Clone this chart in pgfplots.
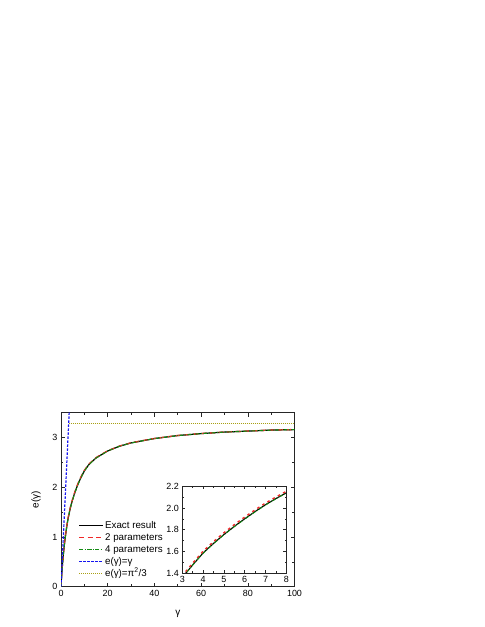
\documentclass[border=0pt]{standalone}
\usepackage{fontspec}
\setmainfont{Liberation Sans}
\usepackage{pgfplots}
\usepackage{pgfplotstable}
\pgfplotsset{compat=1.18}
\definecolor{myred}{RGB}{240,40,40}
\definecolor{mygreen}{RGB}{20,140,20}
\definecolor{myblue}{RGB}{20,20,240}
\definecolor{myolive}{RGB}{170,160,20}

\pgfplotstableread{
g e
0 0
0.05 0.045
0.1 0.087
0.2 0.165
0.3 0.236
0.5 0.366
0.75 0.51
1 0.645
1.5 0.87
2 1.055
2.5 1.22
3 1.362
3.2 1.405
3.5 1.475
4 1.585
4.5 1.673
5 1.755
5.5 1.83
6 1.90
6.5 1.967
7 2.03
7.5 2.087
8 2.14
9 2.24
10 2.33
12 2.46
15 2.59
20 2.73
25 2.825
30 2.892
40 2.98
50 3.04
60 3.08
70 3.11
80 3.13
90 3.15
100 3.16
}\exact

\pgfplotstableread{
g e
0 0
0.05 0.046
0.1 0.089
0.2 0.168
0.3 0.240
0.5 0.372
0.75 0.518
1 0.655
1.5 0.882
2 1.069
2.5 1.235
3 1.378
3.2 1.421
3.5 1.491
4 1.601
4.5 1.689
5 1.771
5.5 1.846
6 1.916
6.5 1.983
7 2.045
7.5 2.101
8 2.154
9 2.252
10 2.341
12 2.469
15 2.597
20 2.735
25 2.829
30 2.895
40 2.982
50 3.042
60 3.081
70 3.111
80 3.131
90 3.151
100 3.161
}\twopar

\pgfplotstableread{
g e
0 0
0.05 0.045
0.1 0.086
0.2 0.164
0.3 0.235
0.5 0.365
0.75 0.509
1 0.644
1.5 0.868
2 1.053
2.5 1.218
3 1.36
3.2 1.403
3.5 1.473
4 1.582
4.5 1.670
5 1.752
5.5 1.827
6 1.897
6.5 1.964
7 2.027
7.5 2.084
8 2.137
9 2.238
10 2.328
12 2.459
15 2.589
20 2.73
25 2.825
30 2.892
40 2.98
50 3.04
60 3.08
70 3.11
80 3.13
90 3.15
100 3.16
}\fourpar

\pgfplotsset{
  mystyle/.style={
    scale only axis,
    tick align=inside,
    major tick length=4bp,
    minor tick length=2.2bp,
    axis line style={line width=0.8bp, black!85},
    every tick/.style={black!85, line width=0.6bp},
    tick label style={font=\fontsize{9}{10}\selectfont},
    /pgf/number format/assume math mode=true,
    clip=true,
  },
}

\begin{document}
\begin{tikzpicture}
\path[use as bounding box] (0,0) rectangle (485bp,627bp);
\begin{axis}[mystyle,
  at={(61bp,40.3bp)}, anchor=south west,
  width=233.5bp, height=174bp,
  xmin=0, xmax=100, ymin=0, ymax=3.5,
  xtick={0,20,...,100}, ytick={0,1,2,3},
  minor x tick num=1, minor y tick num=1,
  xlabel={γ}, ylabel={e(γ)},
  label style={font=\fontsize{9}{10}\selectfont},
  every axis x label/.style={at={(axis description cs:0.5,-0.155)}, anchor=center},
  every axis y label/.style={at={(axis description cs:-0.107,0.5)}, rotate=90, anchor=center},
  legend style={at={(axis description cs:0.07,0.033)}, anchor=south west, draw=none, fill=none,
    font=\fontsize{9.8}{10}\selectfont, row sep=0bp, inner sep=1bp,
    nodes={text height=7bp, text depth=2bp, inner sep=1.5bp}},
  legend cell align=left,
  legend image post style={xscale=1.4},
]
\addplot[color=black, line width=1.2bp] table[x=g,y=e] {\exact};
\addlegendentry{Exact result}
\addplot[color=myred, line width=1.3bp, dash pattern=on 5bp off 3.5bp] table[x=g,y=e] {\twopar};
\addlegendentry{2 parameters}
\addplot[color=mygreen, line width=1.1bp, dash pattern=on 4bp off 1.5bp on 1bp off 1.5bp] table[x=g,y=e] {\fourpar};
\addlegendentry{4 parameters}
\addplot[color=myblue, line width=1.2bp, dash pattern=on 2.5bp off 1.5bp] coordinates {(0,0) (3.5,3.5)};
\addlegendentry{e(γ)=γ}
\addplot[color=myolive, line width=1bp, dash pattern=on 1bp off 1bp] coordinates {(3.29,3.29) (100,3.29)};
\addlegendentry{e(γ)=π\textsuperscript{2}/3}
\end{axis}

\begin{axis}[mystyle,
  at={(182.3bp,54bp)}, anchor=south west,
  width=104bp, height=86.7bp,
  xmin=3, xmax=8, ymin=1.4, ymax=2.2,
  xtick={3,4,...,8}, ytick={1.4,1.6,1.8,2.0,2.2},
  minor x tick num=1, minor y tick num=1,
  yticklabel style={/pgf/number format/.cd, fixed, fixed zerofill, precision=1},
  axis background/.style={fill=white},
  major tick length=3bp, minor tick length=1.8bp,
]
\addplot[color=black, line width=1.1bp] table[x=g,y=e] {\exact};
\addplot[color=myred, line width=1.4bp, dash pattern=on 2.5bp off 3.5bp] table[x=g,y=e] {\twopar};
\addplot[color=mygreen, line width=0.9bp, dash pattern=on 4bp off 1.5bp on 1bp off 1.5bp] table[x=g,y=e] {\fourpar};
\end{axis}
\end{tikzpicture}
\end{document}
